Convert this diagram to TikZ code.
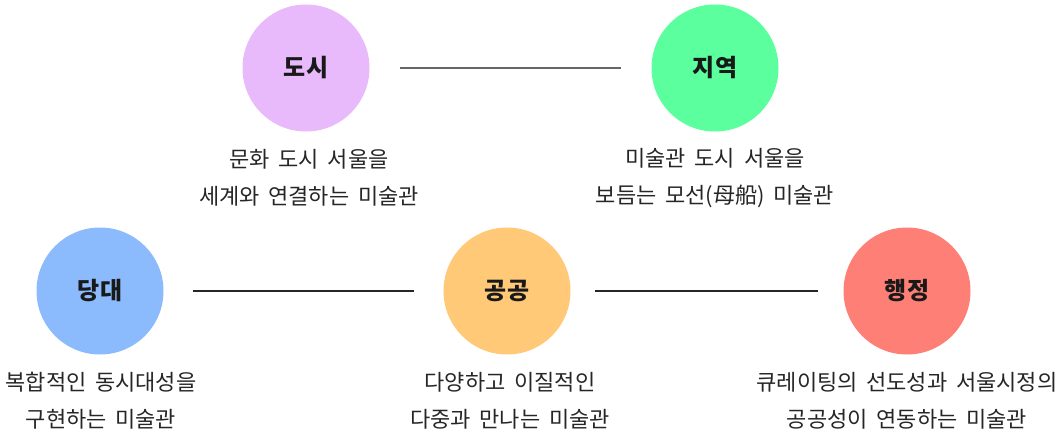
\documentclass[tikz,border=0pt]{standalone}
\usepackage{fontspec}
\usetikzlibrary{calc}
\newfontfamily\krsans{Noto Sans CJK KR}
\newcommand\descfont{\krsans\fontsize{22}{37}\selectfont\spaceskip=0.4em\relax}
\definecolor{cDosi}{HTML}{E8B9FB}
\definecolor{cJiyeok}{HTML}{5CFF9E}
\definecolor{cDangdae}{HTML}{8BBBFD}
\definecolor{cGonggong}{HTML}{FFC978}
\definecolor{cHaengjeong}{HTML}{FE7F76}
\begin{document}
\begin{tikzpicture}[x=1pt,y=-1pt,
  bubble/.style={circle, minimum size=127pt, inner sep=0pt, font=\krsans\bfseries\fontsize{24}{26}\selectfont, text=black!90},
  desc/.style={font=\descfont, align=center, text=black!85, inner sep=0pt},
  link/.style={line width=1.3pt, draw=black!85}]
\useasboundingbox (0,0) rectangle (1063,436);
\node[bubble, fill=cDosi] (dosi) at (306,68) {도시};
\node[bubble, fill=cJiyeok] (jiyeok) at (715,68) {지역};
\node[bubble, fill=cDangdae] (dangdae) at (100,291) {당대};
\node[bubble, fill=cGonggong] (gonggong) at (507,291) {공공};
\node[bubble, fill=cHaengjeong] (haengjeong) at (907,291) {행정};
\draw[link, draw=black!60] ($(dosi.east)+(30,0)$) -- ($(jiyeok.west)+(-30,0)$);
\draw[link] ($(dangdae.east)+(29,0)$) -- ($(gonggong.west)+(-29,0)$);
\draw[link] ($(gonggong.east)+(24,0)$) -- ($(haengjeong.west)+(-25,0)$);
\node[desc] (tdosi) at (309,178) {문화 도시 서울을\\세계와 연결하는 미술관};
\node[desc] (tjiyeok) at (715,178) {미술관 도시 서울을\\보듬는 모선(母船) 미술관};
\node[desc] (tdangdae) at (101,401) {복합적인 동시대성을\\구현하는 미술관};
\node[desc] (tgonggong) at (510,401) {다양하고 이질적인\\다중과 만나는 미술관};
\node[desc] (thaengjeong) at (907,401) {큐레이팅의 선도성과 서울시정의\\공공성이 연동하는 미술관};
\end{tikzpicture}
\end{document}
